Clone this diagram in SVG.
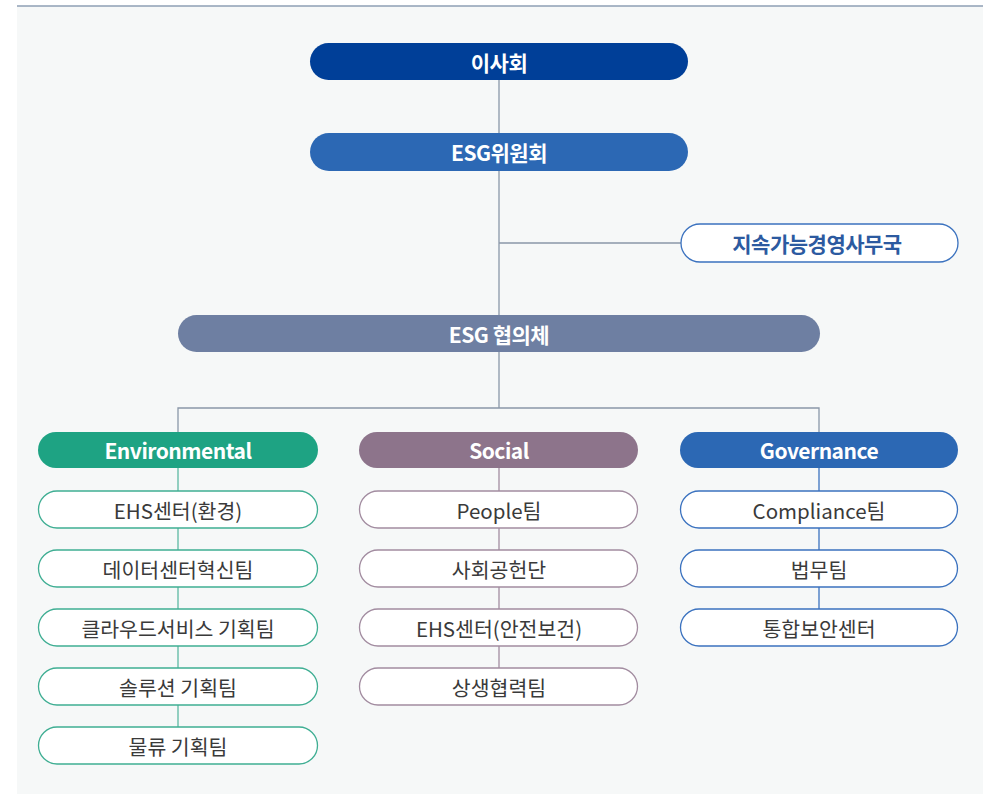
<svg xmlns="http://www.w3.org/2000/svg" width="983" height="794" viewBox="0 0 983 794">
<style>
text{font-family:"Noto Sans CJK KR","Noto Sans",sans-serif;text-anchor:middle;dominant-baseline:central}
.hd{fill:#fff;font-weight:700;font-size:21px;letter-spacing:-0.5px}
.sub{fill:#3a3a3a;font-size:20.5px;letter-spacing:0px}
.sn{fill:#fff;stroke-width:1.3}
.env{stroke:#3fae93}
.soc{stroke:#a28ca0}
.gov{stroke:#3b72bf}
.ln{stroke:#8a97a8;stroke-width:1.3;fill:none}
</style>
<rect x="17" y="6" width="966" height="788" fill="#f6f8f8"/>
<line x1="17" y1="6" x2="983" y2="6" stroke="#8e9fb4" stroke-width="1.5"/>
<g id="connectors">
<path class="ln" d="M499 80V408M499 243H681M178 432V408H819V432"/>
<path d="M178 468V727" stroke="#5cb9a2" stroke-width="1.3"/>
<path d="M499 468V668" stroke="#a28ca0" stroke-width="1.3"/>
<path d="M819 468V609" stroke="#3b72bf" stroke-width="1.3"/>
</g>
<g id="board"><rect x="310" y="43" width="378" height="37" rx="18.5" fill="#003f98"/><text class="hd" x="499" y="62">이사회</text></g>
<g id="esg-committee"><rect x="310" y="133" width="378" height="38" rx="19" fill="#2c68b4"/><text class="hd" x="499" y="152">ESG위원회</text></g>
<g id="office"><rect x="681" y="224" width="277" height="38" rx="19" fill="#fff" stroke="#3b72bf" stroke-width="1.3"/><text x="817" y="243" style="fill:#2c5aa0;font-weight:700;font-size:21px;letter-spacing:-0.5px">지속가능경영사무국</text></g>
<g id="council"><rect x="178" y="315" width="642" height="37" rx="18.5" fill="#6e7fa2"/><text class="hd" x="499" y="334">ESG 협의체</text></g>
<g id="environmental"><rect x="38" y="432" width="280" height="36" rx="18" fill="#1ea383"/><text class="hd" x="178" y="450">Environmental</text></g>
<g id="social"><rect x="359" y="432" width="279" height="36" rx="18" fill="#8d748b"/><text class="hd" x="499" y="450">Social</text></g>
<g id="governance"><rect x="680" y="432" width="278" height="36" rx="18" fill="#2c68b4"/><text class="hd" x="819" y="450">Governance</text></g>
<g id="env1"><rect class="sn env" x="38.5" y="491" width="279" height="37" rx="18.5"/><text class="sub" x="178" y="510">EHS센터(환경)</text></g>
<g id="env2"><rect class="sn env" x="38.5" y="550" width="279" height="37" rx="18.5"/><text class="sub" x="178" y="569">데이터센터혁신팀</text></g>
<g id="env3"><rect class="sn env" x="38.5" y="609" width="279" height="37" rx="18.5"/><text class="sub" x="178" y="628">클라우드서비스 기획팀</text></g>
<g id="env4"><rect class="sn env" x="38.5" y="668" width="279" height="37" rx="18.5"/><text class="sub" x="178" y="687">솔루션 기획팀</text></g>
<g id="env5"><rect class="sn env" x="38.5" y="727" width="279" height="37" rx="18.5"/><text class="sub" x="178" y="746">물류 기획팀</text></g>
<g id="soc1"><rect class="sn soc" x="359.5" y="491" width="278" height="37" rx="18.5"/><text class="sub" x="499" y="510">People팀</text></g>
<g id="soc2"><rect class="sn soc" x="359.5" y="550" width="278" height="37" rx="18.5"/><text class="sub" x="499" y="569">사회공헌단</text></g>
<g id="soc3"><rect class="sn soc" x="359.5" y="609" width="278" height="37" rx="18.5"/><text class="sub" x="499" y="628">EHS센터(안전보건)</text></g>
<g id="soc4"><rect class="sn soc" x="359.5" y="668" width="278" height="37" rx="18.5"/><text class="sub" x="499" y="687">상생협력팀</text></g>
<g id="gov1"><rect class="sn gov" x="680.5" y="491" width="277" height="37" rx="18.5"/><text class="sub" x="819" y="510">Compliance팀</text></g>
<g id="gov2"><rect class="sn gov" x="680.5" y="550" width="277" height="37" rx="18.5"/><text class="sub" x="819" y="569">법무팀</text></g>
<g id="gov3"><rect class="sn gov" x="680.5" y="609" width="277" height="37" rx="18.5"/><text class="sub" x="819" y="628">통합보안센터</text></g>
</svg>
